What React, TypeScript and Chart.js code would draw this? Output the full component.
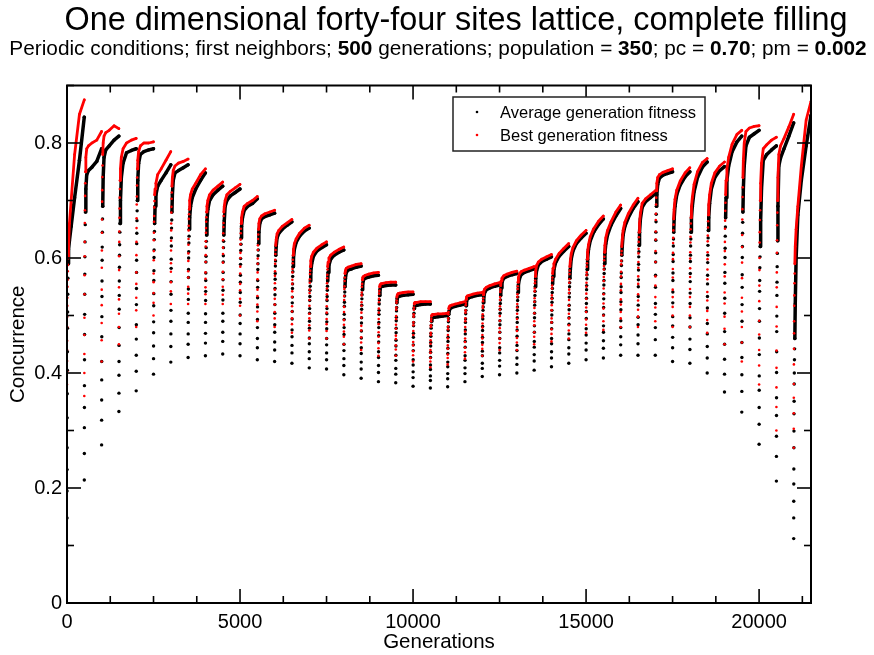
import { useEffect, useRef } from "react";
import { Chart, registerables } from "chart.js";

Chart.register(...registerables);

// ---------- data ----------
const SEGMENT_LENGTH = 500; // generations per run
// generation offsets (inside each 500-generation run) at which values were read
const OFFSETS = [0, 1, 2, 3, 4, 6, 8, 10, 12, 15, 18, 22, 27, 33, 45, 70, 120, 220, 360, 499];

// Average generation fitness, one row per run (43 runs)
const AVG_SEGMENTS = [
  [0.10, 0.148, 0.195, 0.232, 0.27, 0.322, 0.364, 0.405, 0.437, 0.478, 0.506, 0.537, 0.565, 0.59, 0.615, 0.63, 0.655, 0.705, 0.77, 0.845],
  [0.214, 0.26, 0.305, 0.34, 0.378, 0.423, 0.467, 0.502, 0.537, 0.572, 0.602, 0.628, 0.658, 0.68, 0.72, 0.745, 0.752, 0.758, 0.768, 0.79],
  [0.275, 0.318, 0.353, 0.388, 0.42, 0.463, 0.498, 0.533, 0.56, 0.596, 0.619, 0.645, 0.668, 0.69, 0.74, 0.775, 0.788, 0.795, 0.805, 0.812],
  [0.333, 0.365, 0.396, 0.42, 0.448, 0.479, 0.511, 0.535, 0.56, 0.584, 0.605, 0.623, 0.645, 0.66, 0.70, 0.74, 0.765, 0.783, 0.787, 0.79],
  [0.369, 0.403, 0.431, 0.459, 0.484, 0.519, 0.547, 0.575, 0.596, 0.625, 0.643, 0.665, 0.682, 0.70, 0.735, 0.765, 0.78, 0.785, 0.788, 0.79],
  [0.398, 0.425, 0.447, 0.47, 0.489, 0.517, 0.538, 0.561, 0.578, 0.601, 0.614, 0.632, 0.646, 0.66, 0.69, 0.71, 0.725, 0.735, 0.748, 0.762],
  [0.419, 0.446, 0.468, 0.49, 0.509, 0.537, 0.559, 0.582, 0.598, 0.621, 0.635, 0.652, 0.666, 0.68, 0.71, 0.735, 0.748, 0.752, 0.757, 0.762],
  [0.427, 0.45, 0.468, 0.488, 0.504, 0.528, 0.546, 0.566, 0.58, 0.6, 0.611, 0.626, 0.638, 0.65, 0.67, 0.69, 0.705, 0.72, 0.735, 0.748],
  [0.43, 0.452, 0.469, 0.488, 0.503, 0.526, 0.542, 0.561, 0.574, 0.593, 0.603, 0.618, 0.629, 0.64, 0.665, 0.685, 0.70, 0.71, 0.718, 0.725],
  [0.433, 0.455, 0.471, 0.49, 0.504, 0.527, 0.544, 0.562, 0.575, 0.593, 0.604, 0.618, 0.629, 0.64, 0.665, 0.69, 0.70, 0.708, 0.714, 0.72],
  [0.43, 0.451, 0.468, 0.486, 0.501, 0.523, 0.54, 0.558, 0.57, 0.589, 0.599, 0.613, 0.624, 0.635, 0.655, 0.67, 0.683, 0.69, 0.695, 0.703],
  [0.423, 0.444, 0.46, 0.479, 0.493, 0.515, 0.531, 0.549, 0.561, 0.58, 0.59, 0.604, 0.614, 0.625, 0.645, 0.66, 0.668, 0.672, 0.675, 0.678],
  [0.42, 0.44, 0.454, 0.471, 0.484, 0.504, 0.519, 0.536, 0.547, 0.563, 0.573, 0.586, 0.595, 0.605, 0.62, 0.635, 0.643, 0.65, 0.657, 0.663],
  [0.417, 0.435, 0.448, 0.463, 0.475, 0.494, 0.507, 0.522, 0.532, 0.547, 0.555, 0.568, 0.576, 0.585, 0.60, 0.615, 0.627, 0.638, 0.647, 0.652],
  [0.409, 0.425, 0.437, 0.451, 0.461, 0.478, 0.49, 0.504, 0.512, 0.526, 0.533, 0.544, 0.551, 0.56, 0.575, 0.59, 0.603, 0.612, 0.618, 0.623],
  [0.407, 0.423, 0.435, 0.449, 0.46, 0.477, 0.489, 0.503, 0.512, 0.526, 0.533, 0.544, 0.551, 0.56, 0.575, 0.588, 0.598, 0.605, 0.61, 0.614],
  [0.397, 0.413, 0.425, 0.439, 0.45, 0.467, 0.479, 0.493, 0.502, 0.516, 0.523, 0.534, 0.541, 0.55, 0.565, 0.575, 0.579, 0.581, 0.584, 0.586],
  [0.391, 0.407, 0.419, 0.434, 0.444, 0.461, 0.473, 0.487, 0.496, 0.511, 0.518, 0.529, 0.536, 0.545, 0.555, 0.562, 0.565, 0.567, 0.569, 0.57],
  [0.385, 0.401, 0.413, 0.427, 0.437, 0.454, 0.465, 0.479, 0.488, 0.502, 0.509, 0.52, 0.527, 0.535, 0.545, 0.55, 0.551, 0.552, 0.553, 0.553],
  [0.383, 0.398, 0.408, 0.422, 0.431, 0.447, 0.457, 0.47, 0.478, 0.491, 0.497, 0.508, 0.514, 0.522, 0.53, 0.533, 0.534, 0.535, 0.536, 0.537],
  [0.377, 0.392, 0.402, 0.414, 0.423, 0.439, 0.449, 0.462, 0.469, 0.482, 0.488, 0.498, 0.504, 0.512, 0.517, 0.518, 0.518, 0.519, 0.52, 0.52],
  [0.374, 0.387, 0.395, 0.406, 0.414, 0.427, 0.436, 0.447, 0.453, 0.464, 0.469, 0.478, 0.483, 0.49, 0.495, 0.497, 0.497, 0.498, 0.499, 0.50],
  [0.376, 0.39, 0.399, 0.411, 0.419, 0.434, 0.443, 0.455, 0.462, 0.474, 0.48, 0.489, 0.495, 0.502, 0.508, 0.512, 0.514, 0.516, 0.518, 0.52],
  [0.385, 0.399, 0.409, 0.422, 0.43, 0.445, 0.455, 0.468, 0.475, 0.488, 0.494, 0.503, 0.509, 0.517, 0.524, 0.529, 0.531, 0.533, 0.535, 0.536],
  [0.394, 0.408, 0.417, 0.43, 0.438, 0.453, 0.462, 0.474, 0.481, 0.494, 0.499, 0.509, 0.515, 0.522, 0.532, 0.54, 0.545, 0.548, 0.551, 0.553],
  [0.397, 0.412, 0.422, 0.435, 0.444, 0.46, 0.471, 0.484, 0.491, 0.504, 0.511, 0.521, 0.527, 0.535, 0.548, 0.558, 0.565, 0.568, 0.571, 0.573],
  [0.40, 0.415, 0.426, 0.439, 0.448, 0.464, 0.475, 0.488, 0.496, 0.509, 0.515, 0.526, 0.532, 0.54, 0.553, 0.563, 0.571, 0.575, 0.578, 0.581],
  [0.405, 0.421, 0.432, 0.445, 0.455, 0.471, 0.482, 0.496, 0.504, 0.518, 0.524, 0.535, 0.542, 0.55, 0.565, 0.578, 0.588, 0.594, 0.598, 0.602],
  [0.411, 0.426, 0.437, 0.451, 0.46, 0.477, 0.488, 0.501, 0.509, 0.523, 0.53, 0.54, 0.547, 0.555, 0.568, 0.58, 0.592, 0.603, 0.612, 0.62],
  [0.417, 0.433, 0.444, 0.458, 0.468, 0.485, 0.496, 0.51, 0.518, 0.532, 0.539, 0.55, 0.557, 0.565, 0.58, 0.598, 0.612, 0.625, 0.635, 0.643],
  [0.423, 0.44, 0.452, 0.466, 0.477, 0.495, 0.507, 0.521, 0.53, 0.545, 0.552, 0.564, 0.571, 0.58, 0.598, 0.615, 0.63, 0.645, 0.658, 0.668],
  [0.426, 0.443, 0.456, 0.471, 0.482, 0.501, 0.514, 0.529, 0.538, 0.553, 0.561, 0.573, 0.581, 0.59, 0.608, 0.625, 0.64, 0.657, 0.673, 0.686],
  [0.431, 0.449, 0.463, 0.479, 0.491, 0.51, 0.524, 0.54, 0.55, 0.566, 0.574, 0.587, 0.595, 0.605, 0.62, 0.64, 0.655, 0.67, 0.686, 0.698],
  [0.431, 0.451, 0.466, 0.484, 0.497, 0.518, 0.533, 0.55, 0.562, 0.579, 0.589, 0.602, 0.611, 0.622, 0.645, 0.668, 0.688, 0.698, 0.705, 0.712],
  [0.431, 0.458, 0.479, 0.502, 0.521, 0.549, 0.57, 0.593, 0.609, 0.631, 0.645, 0.663, 0.676, 0.69, 0.71, 0.728, 0.739, 0.744, 0.747, 0.75],
  [0.42, 0.444, 0.462, 0.482, 0.498, 0.522, 0.541, 0.561, 0.574, 0.594, 0.606, 0.621, 0.633, 0.645, 0.668, 0.69, 0.71, 0.727, 0.741, 0.75],
  [0.417, 0.441, 0.459, 0.48, 0.496, 0.521, 0.539, 0.559, 0.573, 0.594, 0.605, 0.621, 0.633, 0.645, 0.668, 0.69, 0.715, 0.74, 0.758, 0.767],
  [0.40, 0.426, 0.446, 0.468, 0.486, 0.513, 0.533, 0.555, 0.57, 0.592, 0.605, 0.622, 0.635, 0.648, 0.67, 0.695, 0.72, 0.74, 0.752, 0.759],
  [0.367, 0.398, 0.424, 0.45, 0.472, 0.504, 0.53, 0.556, 0.575, 0.601, 0.617, 0.638, 0.654, 0.67, 0.705, 0.735, 0.76, 0.785, 0.802, 0.812],
  [0.332, 0.368, 0.397, 0.427, 0.453, 0.49, 0.519, 0.549, 0.571, 0.601, 0.62, 0.643, 0.662, 0.68, 0.72, 0.76, 0.795, 0.81, 0.816, 0.822],
  [0.276, 0.311, 0.34, 0.37, 0.395, 0.432, 0.461, 0.49, 0.512, 0.542, 0.561, 0.583, 0.602, 0.62, 0.665, 0.72, 0.77, 0.78, 0.788, 0.795],
  [0.212, 0.255, 0.29, 0.326, 0.357, 0.401, 0.437, 0.472, 0.499, 0.535, 0.558, 0.585, 0.608, 0.63, 0.69, 0.76, 0.774, 0.79, 0.812, 0.835],
  [0.112, 0.148, 0.177, 0.207, 0.233, 0.27, 0.299, 0.329, 0.351, 0.381, 0.4, 0.423, 0.442, 0.46, 0.52, 0.60, 0.675, 0.735, 0.795, 0.848],
];

// Best generation fitness, one row per run (43 runs)
const BEST_SEGMENTS = [
  [0.38, 0.403, 0.421, 0.44, 0.456, 0.48, 0.498, 0.517, 0.531, 0.55, 0.562, 0.577, 0.588, 0.60, 0.62, 0.66, 0.70, 0.78, 0.85, 0.875],
  [0.36, 0.4, 0.433, 0.466, 0.496, 0.537, 0.57, 0.603, 0.628, 0.661, 0.683, 0.708, 0.73, 0.75, 0.775, 0.79, 0.795, 0.80, 0.805, 0.82],
  [0.42, 0.457, 0.487, 0.518, 0.545, 0.583, 0.613, 0.644, 0.667, 0.698, 0.718, 0.741, 0.761, 0.78, 0.80, 0.812, 0.818, 0.822, 0.83, 0.825],
  [0.45, 0.48, 0.503, 0.528, 0.549, 0.579, 0.603, 0.628, 0.646, 0.67, 0.686, 0.705, 0.72, 0.735, 0.755, 0.775, 0.79, 0.80, 0.805, 0.808],
  [0.48, 0.509, 0.531, 0.555, 0.575, 0.605, 0.628, 0.652, 0.669, 0.693, 0.707, 0.726, 0.74, 0.755, 0.77, 0.785, 0.795, 0.80, 0.80, 0.802],
  [0.50, 0.522, 0.539, 0.558, 0.573, 0.596, 0.612, 0.631, 0.644, 0.663, 0.673, 0.688, 0.699, 0.71, 0.72, 0.73, 0.745, 0.755, 0.77, 0.785],
  [0.52, 0.542, 0.558, 0.576, 0.591, 0.613, 0.63, 0.648, 0.66, 0.679, 0.689, 0.703, 0.714, 0.725, 0.74, 0.752, 0.76, 0.765, 0.768, 0.772],
  [0.52, 0.538, 0.55, 0.566, 0.577, 0.595, 0.608, 0.623, 0.633, 0.648, 0.656, 0.668, 0.676, 0.685, 0.70, 0.71, 0.72, 0.73, 0.745, 0.755],
  [0.52, 0.537, 0.549, 0.564, 0.575, 0.593, 0.605, 0.62, 0.629, 0.644, 0.652, 0.663, 0.671, 0.68, 0.69, 0.70, 0.71, 0.718, 0.725, 0.732],
  [0.52, 0.536, 0.55, 0.563, 0.576, 0.592, 0.607, 0.618, 0.631, 0.643, 0.654, 0.661, 0.673, 0.68, 0.69, 0.70, 0.71, 0.716, 0.722, 0.728],
  [0.50, 0.517, 0.529, 0.544, 0.555, 0.573, 0.585, 0.6, 0.609, 0.624, 0.632, 0.643, 0.651, 0.66, 0.67, 0.68, 0.69, 0.695, 0.70, 0.707],
  [0.49, 0.507, 0.519, 0.534, 0.545, 0.563, 0.575, 0.59, 0.599, 0.614, 0.622, 0.633, 0.641, 0.65, 0.66, 0.668, 0.673, 0.677, 0.68, 0.683],
  [0.48, 0.495, 0.506, 0.519, 0.529, 0.545, 0.556, 0.569, 0.577, 0.59, 0.597, 0.607, 0.614, 0.622, 0.632, 0.642, 0.648, 0.655, 0.661, 0.667],
  [0.47, 0.485, 0.495, 0.507, 0.516, 0.532, 0.542, 0.555, 0.562, 0.575, 0.581, 0.591, 0.597, 0.605, 0.615, 0.625, 0.633, 0.643, 0.652, 0.657],
  [0.46, 0.474, 0.483, 0.495, 0.503, 0.517, 0.527, 0.539, 0.545, 0.557, 0.563, 0.572, 0.578, 0.585, 0.595, 0.603, 0.61, 0.617, 0.623, 0.628],
  [0.46, 0.473, 0.485, 0.494, 0.505, 0.516, 0.528, 0.537, 0.547, 0.556, 0.565, 0.571, 0.58, 0.585, 0.593, 0.60, 0.605, 0.61, 0.615, 0.619],
  [0.45, 0.463, 0.472, 0.484, 0.492, 0.506, 0.515, 0.527, 0.534, 0.546, 0.551, 0.56, 0.566, 0.573, 0.578, 0.582, 0.584, 0.586, 0.589, 0.59],
  [0.44, 0.453, 0.462, 0.474, 0.482, 0.496, 0.505, 0.517, 0.523, 0.535, 0.54, 0.55, 0.555, 0.562, 0.566, 0.568, 0.57, 0.572, 0.574, 0.575],
  [0.43, 0.443, 0.452, 0.463, 0.471, 0.485, 0.494, 0.505, 0.512, 0.523, 0.529, 0.538, 0.543, 0.55, 0.553, 0.555, 0.556, 0.557, 0.558, 0.558],
  [0.43, 0.441, 0.448, 0.459, 0.465, 0.477, 0.484, 0.494, 0.499, 0.51, 0.514, 0.522, 0.526, 0.532, 0.536, 0.538, 0.539, 0.54, 0.541, 0.541],
  [0.42, 0.431, 0.438, 0.448, 0.454, 0.466, 0.473, 0.483, 0.488, 0.498, 0.502, 0.51, 0.514, 0.52, 0.522, 0.523, 0.523, 0.524, 0.524, 0.524],
  [0.41, 0.42, 0.426, 0.435, 0.44, 0.451, 0.457, 0.466, 0.47, 0.48, 0.483, 0.49, 0.494, 0.499, 0.501, 0.502, 0.502, 0.503, 0.503, 0.504],
  [0.415, 0.426, 0.432, 0.442, 0.448, 0.46, 0.466, 0.476, 0.481, 0.491, 0.495, 0.502, 0.506, 0.512, 0.515, 0.517, 0.518, 0.52, 0.522, 0.524],
  [0.425, 0.436, 0.444, 0.454, 0.46, 0.472, 0.48, 0.49, 0.495, 0.505, 0.509, 0.518, 0.522, 0.528, 0.532, 0.534, 0.535, 0.537, 0.539, 0.54],
  [0.43, 0.442, 0.449, 0.46, 0.466, 0.479, 0.486, 0.497, 0.502, 0.513, 0.517, 0.525, 0.53, 0.536, 0.542, 0.546, 0.549, 0.552, 0.555, 0.557],
  [0.44, 0.452, 0.46, 0.471, 0.478, 0.491, 0.499, 0.51, 0.516, 0.527, 0.532, 0.541, 0.545, 0.552, 0.56, 0.565, 0.569, 0.572, 0.575, 0.577],
  [0.44, 0.453, 0.461, 0.473, 0.48, 0.494, 0.503, 0.514, 0.52, 0.532, 0.537, 0.546, 0.551, 0.558, 0.566, 0.572, 0.576, 0.579, 0.582, 0.585],
  [0.45, 0.463, 0.471, 0.483, 0.49, 0.504, 0.513, 0.524, 0.53, 0.542, 0.547, 0.556, 0.561, 0.568, 0.578, 0.587, 0.593, 0.598, 0.602, 0.606],
  [0.455, 0.468, 0.476, 0.488, 0.495, 0.509, 0.518, 0.529, 0.535, 0.547, 0.552, 0.561, 0.566, 0.573, 0.582, 0.59, 0.598, 0.608, 0.617, 0.625],
  [0.46, 0.474, 0.483, 0.495, 0.503, 0.517, 0.527, 0.539, 0.545, 0.557, 0.563, 0.572, 0.578, 0.585, 0.595, 0.607, 0.618, 0.63, 0.64, 0.648],
  [0.47, 0.484, 0.493, 0.506, 0.514, 0.529, 0.538, 0.55, 0.557, 0.57, 0.575, 0.585, 0.591, 0.598, 0.61, 0.623, 0.637, 0.651, 0.664, 0.673],
  [0.475, 0.49, 0.5, 0.512, 0.521, 0.537, 0.547, 0.56, 0.567, 0.58, 0.586, 0.596, 0.602, 0.61, 0.622, 0.635, 0.648, 0.663, 0.68, 0.692],
  [0.48, 0.495, 0.506, 0.519, 0.528, 0.544, 0.555, 0.568, 0.576, 0.589, 0.595, 0.606, 0.612, 0.62, 0.632, 0.648, 0.662, 0.677, 0.692, 0.704],
  [0.48, 0.498, 0.51, 0.526, 0.537, 0.555, 0.568, 0.583, 0.593, 0.608, 0.616, 0.628, 0.636, 0.645, 0.66, 0.678, 0.695, 0.703, 0.71, 0.717],
  [0.49, 0.514, 0.532, 0.552, 0.568, 0.593, 0.612, 0.632, 0.646, 0.666, 0.677, 0.693, 0.705, 0.717, 0.73, 0.74, 0.745, 0.749, 0.752, 0.755],
  [0.48, 0.5, 0.515, 0.532, 0.545, 0.566, 0.581, 0.598, 0.609, 0.626, 0.635, 0.648, 0.658, 0.668, 0.685, 0.702, 0.718, 0.734, 0.748, 0.757],
  [0.48, 0.5, 0.515, 0.532, 0.546, 0.567, 0.582, 0.599, 0.61, 0.627, 0.637, 0.65, 0.66, 0.67, 0.688, 0.705, 0.728, 0.75, 0.766, 0.773],
  [0.47, 0.492, 0.508, 0.526, 0.541, 0.563, 0.58, 0.598, 0.61, 0.629, 0.639, 0.653, 0.664, 0.675, 0.692, 0.71, 0.73, 0.748, 0.76, 0.767],
  [0.45, 0.477, 0.498, 0.521, 0.54, 0.568, 0.589, 0.612, 0.628, 0.651, 0.665, 0.682, 0.696, 0.71, 0.735, 0.755, 0.775, 0.798, 0.815, 0.822],
  [0.42, 0.453, 0.48, 0.507, 0.531, 0.565, 0.592, 0.619, 0.64, 0.667, 0.685, 0.706, 0.723, 0.74, 0.77, 0.80, 0.82, 0.826, 0.829, 0.83],
  [0.38, 0.413, 0.44, 0.467, 0.491, 0.525, 0.552, 0.579, 0.6, 0.627, 0.645, 0.666, 0.683, 0.70, 0.73, 0.765, 0.79, 0.797, 0.805, 0.81],
  [0.30, 0.341, 0.375, 0.409, 0.439, 0.481, 0.515, 0.549, 0.575, 0.609, 0.631, 0.657, 0.679, 0.70, 0.74, 0.78, 0.795, 0.808, 0.828, 0.85],
  [0.27, 0.303, 0.33, 0.357, 0.381, 0.415, 0.442, 0.469, 0.49, 0.517, 0.535, 0.556, 0.573, 0.59, 0.62, 0.65, 0.69, 0.76, 0.84, 0.872],
];

const X_MAX = 21500;
const Y_MAX = 0.9;
const X_TICKS = [0, 5000, 10000, 15000, 20000];
const X_TICK_LABELS = ["0", "5000", "10000", "15000", "20000"];
const Y_TICKS = [0, 0.2, 0.4, 0.6, 0.8];
const Y_TICK_LABELS = ["0", "0.2", "0.4", "0.6", "0.8"];
const X_MINOR_STEP = 1250;
const Y_MINOR_STEP = 0.1;

const TITLE = "One dimensional forty-four sites lattice, complete filling";
const SUBTITLE_PARTS: [string, boolean][] = [
  ["Periodic conditions; first neighbors; ", false],
  ["500", true],
  [" generations; population = ", false],
  ["350", true],
  ["; pc = ", false],
  ["0.70", true],
  ["; pm = ", false],
  ["0.002", true],
];
const X_TITLE = "Generations";
const Y_TITLE = "Concurrence";
const SERIES_LABELS = ["Average generation fitness", "Best generation fitness"];
const SERIES_COLORS = ["#000000", "#ff0000"];

// ---------- helpers ----------
const FONT = "'Liberation Sans', Arial, Helvetica, sans-serif";
const N = OFFSETS.length;
const LINE_FROM_INDEX = 13; // dense part of each run (from offset 33 on) drawn as a band

function toPoints(rows: number[][]) {
  const pts: { x: number; y: number }[] = [];
  rows.forEach((row, k) =>
    row.forEach((v, j) => pts.push({ x: k * SEGMENT_LENGTH + OFFSETS[j], y: v }))
  );
  return pts;
}

const segmentColor = (color: string) => (ctx: any) => {
  const i0 = ctx.p0DataIndex;
  const i1 = ctx.p1DataIndex;
  const sameRun = Math.floor(i0 / N) === Math.floor(i1 / N);
  return sameRun && i0 % N >= LINE_FROM_INDEX ? color : "rgba(0,0,0,0)";
};

const decorPlugin = {
  id: "decor",
  afterDatasetsDraw(chart: any) {
    const { ctx, chartArea: a } = chart;
    const xs = chart.scales.x;
    const ys = chart.scales.y;
    ctx.save();
    ctx.strokeStyle = "#000";
    ctx.lineWidth = 1.6;
    const line = (x1: number, y1: number, x2: number, y2: number) => {
      ctx.beginPath();
      ctx.moveTo(x1, y1);
      ctx.lineTo(x2, y2);
      ctx.stroke();
    };
    for (let i = 0; i * X_MINOR_STEP <= X_MAX; i++) {
      const v = i * X_MINOR_STEP;
      const len = X_TICKS.includes(v) ? 14 : 7;
      const px = xs.getPixelForValue(v);
      line(px, a.bottom, px, a.bottom - len);
      line(px, a.top, px, a.top + len);
    }
    for (let i = 0; i * Y_MINOR_STEP <= Y_MAX + 1e-9; i++) {
      const v = i * Y_MINOR_STEP;
      const len = Y_TICKS.some((t) => Math.abs(t - v) < 1e-9) ? 14 : 7;
      const py = ys.getPixelForValue(v);
      line(a.left, py, a.left + len, py);
      line(a.right, py, a.right - len, py);
    }
    ctx.lineWidth = 2;
    ctx.strokeRect(a.left, a.top, a.right - a.left, a.bottom - a.top);

    // legend box
    const bx = 453, by = 97, bw = 252, bh = 54;
    ctx.fillStyle = "#fff";
    ctx.fillRect(bx, by, bw, bh);
    ctx.lineWidth = 1.5;
    ctx.strokeStyle = "#222";
    ctx.strokeRect(bx, by, bw, bh);
    ctx.font = `16.5px ${FONT}`;
    ctx.textBaseline = "alphabetic";
    ctx.textAlign = "left";
    SERIES_LABELS.forEach((lab, i) => {
      const cy = by + 15 + i * 23;
      ctx.fillStyle = SERIES_COLORS[i];
      ctx.beginPath();
      ctx.arc(bx + 24, cy, 1.3, 0, Math.PI * 2);
      ctx.fill();
      ctx.fillStyle = "#000";
      ctx.fillText(lab, bx + 47, cy + 5.5);
    });

    // titles
    ctx.fillStyle = "#000";
    ctx.textAlign = "center";
    ctx.font = `32.4px ${FONT}`;
    ctx.fillText(TITLE, 456, 30);

    let total = 0;
    SUBTITLE_PARTS.forEach(([t, b]) => {
      ctx.font = `${b ? "bold " : ""}20.8px ${FONT}`;
      total += ctx.measureText(t).width;
    });
    let sx = 438 - total / 2;
    ctx.textAlign = "left";
    SUBTITLE_PARTS.forEach(([t, b]) => {
      ctx.font = `${b ? "bold " : ""}20.8px ${FONT}`;
      ctx.fillText(t, sx, 55);
      sx += ctx.measureText(t).width;
    });

    ctx.font = `20.5px ${FONT}`;
    ctx.textAlign = "center";
    ctx.textBaseline = "middle";
    ctx.fillText(X_TITLE, (a.left + a.right) / 2, 642);
    ctx.save();
    ctx.translate(18, (a.top + a.bottom) / 2);
    ctx.rotate(-Math.PI / 2);
    ctx.fillText(Y_TITLE, 0, 0);
    ctx.restore();
    ctx.restore();
  },
};

export default function App() {
  const canvasRef = useRef<HTMLCanvasElement | null>(null);

  useEffect(() => {
    document.body.style.margin = "0";
    const canvas = canvasRef.current;
    if (!canvas) return;
    const makeSet = (rows: number[][], i: number, width: number, radius: number, order: number) => ({
      label: SERIES_LABELS[i],
      data: toPoints(rows),
      showLine: true,
      borderColor: SERIES_COLORS[i],
      backgroundColor: SERIES_COLORS[i],
      borderWidth: width,
      borderCapStyle: "round" as const,
      borderJoinStyle: "round" as const,
      pointRadius: radius,
      pointBorderWidth: 0,
      pointBackgroundColor: SERIES_COLORS[i],
      pointStyle: "circle" as const,
      segment: { borderColor: segmentColor(SERIES_COLORS[i]) },
      order,
    });
    const chart = new Chart(canvas, {
      type: "scatter",
      data: {
        datasets: [
          makeSet(AVG_SEGMENTS, 0, 3.5, 1.7, 2),
          makeSet(BEST_SEGMENTS, 1, 2.8, 1.3, 1),
        ],
      },
      options: {
        animation: false,
        responsive: false,
        devicePixelRatio: 1,
        events: [],
        layout: { padding: { left: 0, right: 63, top: 85.5, bottom: 0 } },
        plugins: {
          legend: { display: false },
          tooltip: { enabled: false },
          title: { display: false },
        },
        scales: {
          x: {
            type: "linear",
            min: 0,
            max: X_MAX,
            grid: { display: false, drawTicks: false },
            border: { display: false },
            afterBuildTicks: (scale: any) => {
              scale.ticks = X_TICKS.map((value) => ({ value }));
            },
            afterFit: (scale: any) => {
              scale.height = 52;
            },
            ticks: {
              autoSkip: false,
              maxRotation: 0,
              padding: 7,
              color: "#000",
              font: { family: FONT, size: 20 },
              callback: (value: any) => X_TICK_LABELS[X_TICKS.indexOf(Number(value))],
            },
          },
          y: {
            type: "linear",
            min: 0,
            max: Y_MAX,
            grid: { display: false, drawTicks: false },
            border: { display: false },
            afterBuildTicks: (scale: any) => {
              scale.ticks = Y_TICKS.map((value) => ({ value }));
            },
            afterFit: (scale: any) => {
              scale.width = 67;
            },
            ticks: {
              autoSkip: false,
              padding: 5,
              color: "#000",
              font: { family: FONT, size: 20 },
              callback: (value: any) =>
                Y_TICK_LABELS[Y_TICKS.findIndex((t) => Math.abs(t - Number(value)) < 1e-9)],
            },
          },
        },
      },
      plugins: [decorPlugin],
    });
    return () => chart.destroy();
  }, []);

  return (
    <div style={{ width: 874, height: 655, position: "relative", background: "#fff" }}>
      <canvas ref={canvasRef} width={874} height={655} style={{ display: "block" }} />
    </div>
  );
}
